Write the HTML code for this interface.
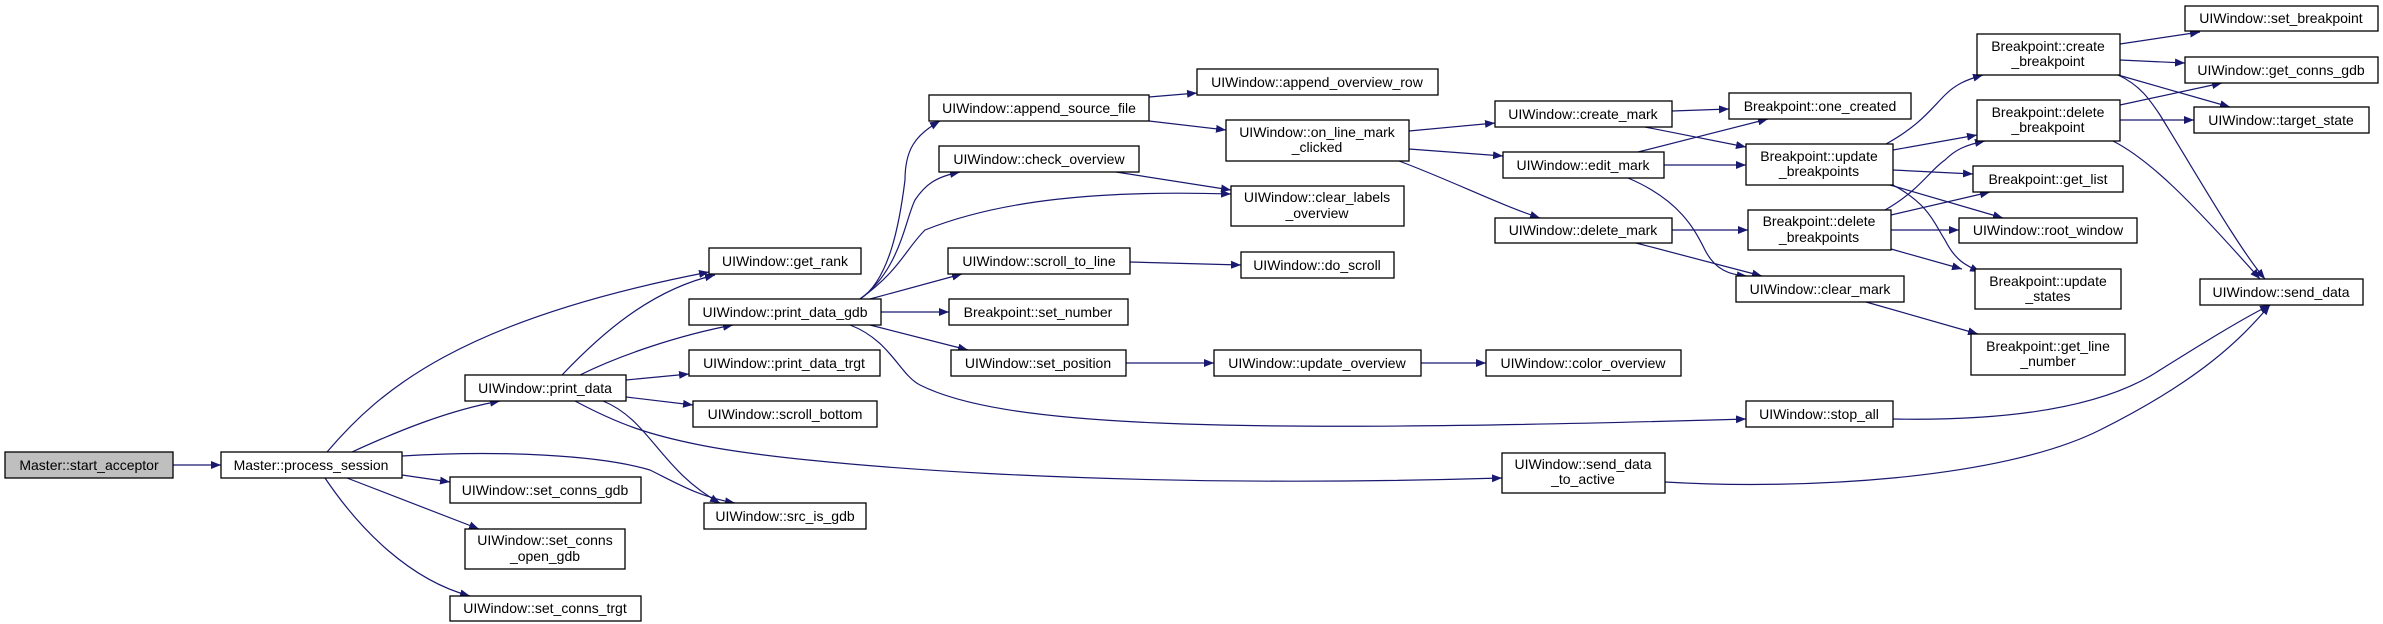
<!DOCTYPE html>
<html><head><meta charset="utf-8"><style>html,body{margin:0;padding:0;background:#fff}svg{display:block}</style></head>
<body>
<svg width="2383" height="624" viewBox="0 0 2383 624" xmlns="http://www.w3.org/2000/svg">
<defs><marker id="a" markerWidth="10" markerHeight="8" refX="10" refY="4" orient="auto" markerUnits="userSpaceOnUse"><path d="M0,0 L10,4 L0,8 z" fill="#191970"/></marker></defs>
<g fill="none" stroke="#191970" stroke-width="1.2" marker-end="url(#a)">
<path d="M173,465 L221,465"/>
<path d="M327,452 C380,390 460,320 709,272"/>
<path d="M352,452 C400,430 450,410 500,401"/>
<path d="M402,456 C500,450 600,455 650,470 C680,485 700,497 735,503"/>
<path d="M402,475 L450,482"/>
<path d="M347,478 L479,529"/>
<path d="M325,478 C360,530 410,580 470,596"/>
<path d="M562,375 C600,335 650,290 715,275"/>
<path d="M580,375 C620,355 680,335 733,325"/>
<path d="M626,380 L689,374"/>
<path d="M626,397 L693,405"/>
<path d="M603,401 C650,420 660,470 720,503"/>
<path d="M575,401 C620,425 650,435 700,445 C800,465 1100,490 1502,478"/>
<path d="M860,299 C890,280 900,220 905,180 C905,150 915,135 940,121"/>
<path d="M860,299 C900,270 905,220 915,200 C925,185 935,177 960,172"/>
<path d="M860,299 C900,270 905,250 925,230 C1000,200 1100,190 1231,194"/>
<path d="M870,299 L962,274"/>
<path d="M881,312 L949,312"/>
<path d="M870,325 L968,350"/>
<path d="M850,325 C890,340 900,375 920,385 C1000,425 1200,435 1746,419"/>
<path d="M1149,97 L1197,93"/>
<path d="M1149,121 L1226,130"/>
<path d="M1116,172 L1231,190"/>
<path d="M1130,262 L1241,265"/>
<path d="M1126,363 L1214,363"/>
<path d="M1421,363 L1486,363"/>
<path d="M1409,131 L1495,123"/>
<path d="M1409,149 L1503,156"/>
<path d="M1399,161 C1450,180 1500,205 1540,218"/>
<path d="M1672,111 L1729,109"/>
<path d="M1645,127 L1746,147"/>
<path d="M1638,152 L1768,119"/>
<path d="M1664,165 L1746,165"/>
<path d="M1628,178 C1680,200 1695,230 1705,250 C1715,270 1730,275 1747,276"/>
<path d="M1672,230 L1748,230"/>
<path d="M1636,243 L1762,276"/>
<path d="M1886,144 C1920,125 1930,110 1945,95 C1955,85 1965,80 1983,75"/>
<path d="M1893,150 L1977,135"/>
<path d="M1893,170 L1973,174"/>
<path d="M1890,185 L2003,218"/>
<path d="M1893,185 C1930,205 1935,225 1945,240 C1955,260 1965,265 1980,272"/>
<path d="M1885,210 C1920,190 1930,170 1945,160 C1955,150 1965,145 1985,141"/>
<path d="M1891,215 L1990,192"/>
<path d="M1891,230 L1959,230"/>
<path d="M1891,249 L1962,269"/>
<path d="M1866,302 L1978,334"/>
<path d="M2120,44 L2200,32"/>
<path d="M2120,60 L2185,63"/>
<path d="M2118,75 L2230,107"/>
<path d="M2118,75 C2140,85 2150,100 2160,115 C2200,180 2240,250 2265,279"/>
<path d="M2120,105 L2222,83"/>
<path d="M2120,120 L2194,120"/>
<path d="M2113,141 C2150,160 2190,200 2260,279"/>
<path d="M1893,419 C2000,421 2100,410 2160,370 C2200,345 2240,320 2270,305"/>
<path d="M1665,482 C1800,490 2000,480 2100,430 C2200,380 2240,340 2270,305"/>
</g>
<g stroke="#000" stroke-width="1.3" fill="#fff">
<rect x="5" y="452" width="168" height="26" fill="#bfbfbf"/>
<rect x="221" y="452" width="181" height="26"/>
<rect x="450" y="477" width="191" height="26"/>
<rect x="465" y="529" width="160" height="40"/>
<rect x="450" y="596" width="191" height="25"/>
<rect x="465" y="375" width="161" height="26"/>
<rect x="709" y="248" width="152" height="26"/>
<rect x="689" y="299" width="192" height="26"/>
<rect x="689" y="350" width="191" height="26"/>
<rect x="693" y="401" width="184" height="26"/>
<rect x="704" y="503" width="162" height="26"/>
<rect x="1197" y="69" width="241" height="26"/>
<rect x="929" y="95" width="220" height="26"/>
<rect x="1226" y="120" width="183" height="41"/>
<rect x="939" y="146" width="200" height="26"/>
<rect x="1231" y="186" width="173" height="40"/>
<rect x="948" y="248" width="182" height="26"/>
<rect x="1241" y="252" width="153" height="26"/>
<rect x="949" y="299" width="179" height="26"/>
<rect x="951" y="350" width="175" height="26"/>
<rect x="1214" y="350" width="207" height="26"/>
<rect x="1486" y="350" width="195" height="26"/>
<rect x="1495" y="101" width="177" height="26"/>
<rect x="1503" y="152" width="161" height="26"/>
<rect x="1495" y="218" width="177" height="25"/>
<rect x="1502" y="453" width="163" height="40"/>
<rect x="1746" y="401" width="147" height="26"/>
<rect x="1729" y="93" width="182" height="26"/>
<rect x="1746" y="144" width="147" height="41"/>
<rect x="1748" y="210" width="143" height="40"/>
<rect x="1736" y="276" width="168" height="26"/>
<rect x="1977" y="34" width="143" height="41"/>
<rect x="1977" y="100" width="143" height="41"/>
<rect x="1973" y="166" width="150" height="26"/>
<rect x="1959" y="218" width="178" height="25"/>
<rect x="1975" y="269" width="146" height="40"/>
<rect x="1971" y="334" width="154" height="41"/>
<rect x="2185" y="6" width="193" height="25"/>
<rect x="2185" y="57" width="193" height="26"/>
<rect x="2194" y="107" width="175" height="26"/>
<rect x="2200" y="279" width="163" height="26"/>
</g>
<g font-family="Liberation Sans, sans-serif" font-size="14" fill="#000" text-anchor="middle">
<text x="89" y="470">Master::start_acceptor</text>
<text x="311" y="470">Master::process_session</text>
<text x="545" y="495">UIWindow::set_conns_gdb</text>
<text x="545" y="545">UIWindow::set_conns</text><text x="545" y="561">_open_gdb</text>
<text x="545" y="613">UIWindow::set_conns_trgt</text>
<text x="545" y="393">UIWindow::print_data</text>
<text x="785" y="266">UIWindow::get_rank</text>
<text x="785" y="317">UIWindow::print_data_gdb</text>
<text x="784" y="368">UIWindow::print_data_trgt</text>
<text x="785" y="419">UIWindow::scroll_bottom</text>
<text x="785" y="521">UIWindow::src_is_gdb</text>
<text x="1317" y="87">UIWindow::append_overview_row</text>
<text x="1039" y="113">UIWindow::append_source_file</text>
<text x="1317" y="137">UIWindow::on_line_mark</text><text x="1317" y="152">_clicked</text>
<text x="1039" y="164">UIWindow::check_overview</text>
<text x="1317" y="202">UIWindow::clear_labels</text><text x="1317" y="218">_overview</text>
<text x="1039" y="266">UIWindow::scroll_to_line</text>
<text x="1317" y="270">UIWindow::do_scroll</text>
<text x="1038" y="317">Breakpoint::set_number</text>
<text x="1038" y="368">UIWindow::set_position</text>
<text x="1317" y="368">UIWindow::update_overview</text>
<text x="1583" y="368">UIWindow::color_overview</text>
<text x="1583" y="119">UIWindow::create_mark</text>
<text x="1583" y="170">UIWindow::edit_mark</text>
<text x="1583" y="235">UIWindow::delete_mark</text>
<text x="1583" y="469">UIWindow::send_data</text><text x="1583" y="484">_to_active</text>
<text x="1819" y="419">UIWindow::stop_all</text>
<text x="1820" y="111">Breakpoint::one_created</text>
<text x="1819" y="161">Breakpoint::update</text><text x="1819" y="176">_breakpoints</text>
<text x="1819" y="226">Breakpoint::delete</text><text x="1819" y="242">_breakpoints</text>
<text x="1820" y="294">UIWindow::clear_mark</text>
<text x="2048" y="51">Breakpoint::create</text><text x="2048" y="66">_breakpoint</text>
<text x="2048" y="117">Breakpoint::delete</text><text x="2048" y="132">_breakpoint</text>
<text x="2048" y="184">Breakpoint::get_list</text>
<text x="2048" y="235">UIWindow::root_window</text>
<text x="2048" y="286">Breakpoint::update</text><text x="2048" y="301">_states</text>
<text x="2048" y="351">Breakpoint::get_line</text><text x="2048" y="366">_number</text>
<text x="2281" y="23">UIWindow::set_breakpoint</text>
<text x="2281" y="75">UIWindow::get_conns_gdb</text>
<text x="2281" y="125">UIWindow::target_state</text>
<text x="2281" y="297">UIWindow::send_data</text>
</g>
</svg>
</body></html>
